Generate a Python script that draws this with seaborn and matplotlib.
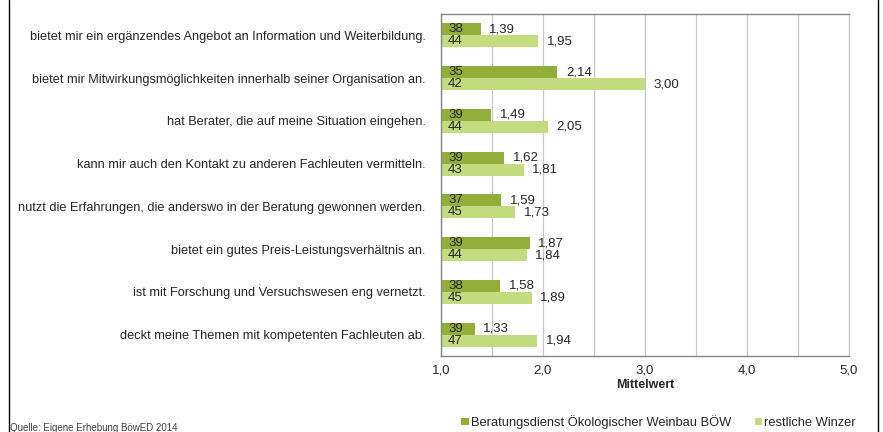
import numpy as np
import pandas as pd
import matplotlib.pyplot as plt
import seaborn as sns
from matplotlib.lines import Line2D
from matplotlib.patches import Patch

# ---- DATA ----
statements = [
    'bietet mir ein ergänzendes Angebot an Information und Weiterbildung.',
    'bietet mir Mitwirkungsmöglichkeiten innerhalb seiner Organisation an.',
    'hat Berater, die auf meine Situation eingehen.',
    'kann mir auch den Kontakt zu anderen Fachleuten vermitteln.',
    'nutzt die Erfahrungen, die anderswo in der Beratung gewonnen werden.',
    'bietet ein gutes Preis-Leistungsverhältnis an.',
    'ist mit Forschung und Versuchswesen eng vernetzt.',
    'deckt meine Themen mit kompetenten Fachleuten ab.',
]
boew_mean = [1.39, 2.14, 1.49, 1.62, 1.59, 1.87, 1.58, 1.33]
boew_n = [38, 35, 39, 39, 37, 39, 38, 39]
rest_mean = [1.95, 3.00, 2.05, 1.81, 1.73, 1.84, 1.89, 1.94]
rest_n = [44, 42, 44, 43, 45, 44, 45, 47]
groups = ['Beratungsdienst Ökologischer Weinbau BÖW', 'restliche Winzer']
x_ticks = [1.0, 2.0, 3.0, 4.0, 5.0]
source = 'Quelle: Eigene Erhebung BöwED 2014'

colors = ['#93AE3A', '#C4DB80']

df = pd.DataFrame({
    'Aussage': statements * 2,
    'Mittelwert': boew_mean + rest_mean,
    'Gruppe': [groups[0]] * len(statements) + [groups[1]] * len(statements),
})

sns.set_style('white')
plt.rcParams['font.family'] = ['Liberation Sans', 'DejaVu Sans']

fig = plt.figure(figsize=(8.83, 4.32), dpi=100)
ax = fig.add_axes([441 / 883, 1 - 356 / 432, 408 / 883, 342 / 432])

sns.barplot(data=df, y='Aussage', x='Mittelwert', hue='Gruppe',
            hue_order=groups, palette=colors, saturation=1, width=0.56,
            orient='h', linewidth=0, legend=False, ax=ax)

ax.set_xlim(1, 5)
ax.set_ylim(len(statements) - 0.5, -0.5)

# grid every 0.5
ax.set_xticks(np.arange(1, 5.01, 0.5), minor=True)
ax.set_xticks(x_ticks)
ax.set_xticklabels([f'{t:.1f}'.replace('.', ',') for t in x_ticks], fontsize=9.5)
ax.grid(axis='x', which='both', color='#C8C8C8', lw=0.9)
ax.set_axisbelow(True)

# category labels, ticks between categories
ax.set_yticks(range(len(statements)))
ax.set_yticklabels(statements, fontsize=9.2)
ax.set_yticks(np.arange(-0.5, len(statements), 1), minor=True)
ax.tick_params(axis='y', which='major', length=0, pad=11)
ax.tick_params(axis='y', which='minor', length=4, color='#868686', direction='out')
ax.tick_params(axis='x', which='major', length=4, color='#868686', direction='out', pad=2)
ax.tick_params(axis='x', which='minor', length=0)
ax.set_ylabel('')
ax.set_xlabel('Mittelwert', fontsize=9, fontweight='bold', labelpad=2)

for side in ['top', 'left', 'bottom']:
    ax.spines[side].set_color('#868686')
    ax.spines[side].set_linewidth(1.0)
ax.spines['right'].set_color('#C8C8C8')
ax.spines['right'].set_linewidth(0.9)

# labels: n inside bar, mean after bar
for container, ns in zip(ax.containers, [boew_n, rest_n]):
    for bar, n in zip(container, ns):
        y = bar.get_y() + bar.get_height() / 2
        w = bar.get_width()
        ax.text(1.07, y, str(n), va='center', ha='left', fontsize=9.5)
        ax.text(w + 0.085, y, f'{w:.2f}'.replace('.', ','), va='center',
                ha='left', fontsize=9.5)

# legend
handles = [Patch(facecolor=c, edgecolor='none') for c in colors]
fig.legend(handles, groups, loc='lower right', bbox_to_anchor=(0.9825, -0.02),
           ncol=2, frameon=False, handlelength=0.55, handleheight=0.55,
           handletextpad=0.2, columnspacing=1.8, fontsize=9.3)

fig.text(10 / 883, 0.002, source, fontsize=7,
         family=['Liberation Sans Narrow', 'Liberation Sans', 'DejaVu Sans'],
         color='#404040')

# frame lines left and right
for xf in [8.5 / 883, 877.5 / 883]:
    fig.add_artist(Line2D([xf, xf], [0, 1], color='black', lw=1,
                          transform=fig.transFigure))

fig.savefig('out.png', dpi=100)
